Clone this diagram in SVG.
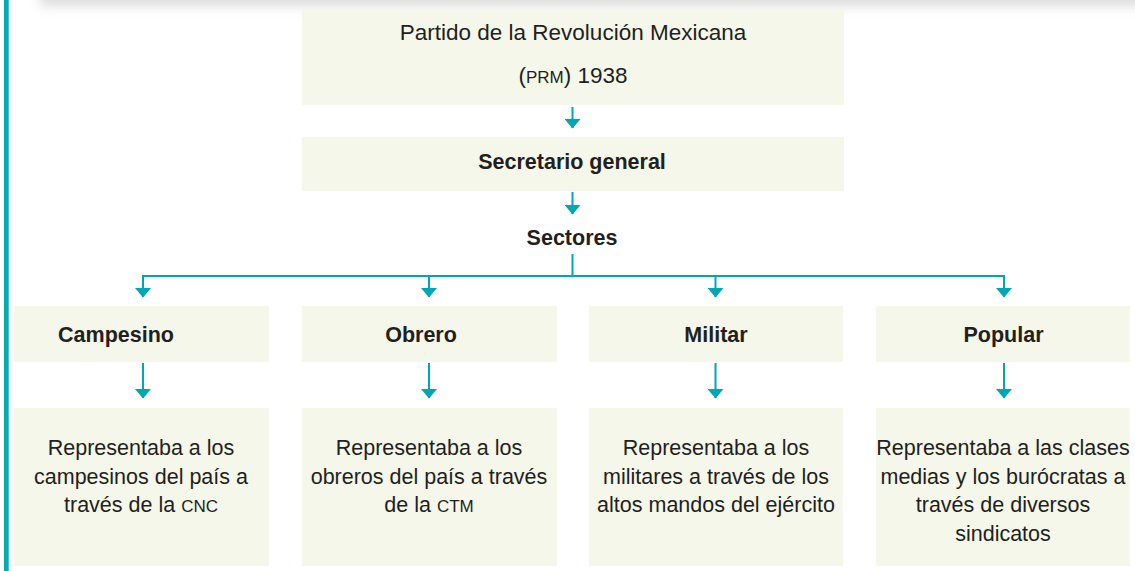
<svg xmlns="http://www.w3.org/2000/svg" width="1135" height="571" viewBox="0 0 1135 571">
  <defs>
    <filter id="sh" x="-10%" y="-200%" width="120%" height="500%">
      <feGaussianBlur stdDeviation="6"/>
    </filter>
    <marker id="ah" markerWidth="16" markerHeight="10" refX="8" refY="9" orient="0" markerUnits="userSpaceOnUse">
      <path d="M0,0 L16,0 L8,9.5 Z" fill="#00A7B2"/>
    </marker>
  </defs>
  <style>
    .box { fill: #F4F7EA; }
    .t { font-family: "Liberation Sans", Arial, sans-serif; fill: #231F20; font-size: 21.5px; text-anchor: middle; }
    .b { font-weight: bold; }
    .sc { font-size: 17px; }
    .c { stroke: #00A7B2; stroke-width: 2; fill: none; }
    .a { marker-end: url(#ah); }
  </style>
  <rect width="1135" height="571" fill="#ffffff"/>
  <!-- top shadow -->
  <rect x="40" y="-30" width="1140" height="36" fill="#c4c4c4" filter="url(#sh)" opacity="0.6"/>
  <!-- left bar -->
  <rect x="4" y="0" width="4.7" height="571" fill="#00ADB5"/>

  <g id="prm">
    <rect class="box" x="302" y="9" width="542" height="96"/>
    <text class="t" x="573" y="40" style="font-size:22.5px">Partido de la Revolución Mexicana</text>
    <text class="t" x="573" y="83" style="font-size:22.5px">(<tspan class="sc">PRM</tspan>) 1938</text>
  </g>
  <g id="secretario">
    <rect class="box" x="302" y="137" width="542" height="54"/>
    <text class="t b" x="572" y="169">Secretario general</text>
  </g>
  <g id="sectores">
    <text class="t b" x="572" y="245">Sectores</text>
  </g>

  <g id="campesino">
    <rect class="box" x="14" y="306" width="255" height="56"/>
    <text class="t b" x="116" y="342">Campesino</text>
  </g>
  <g id="obrero">
    <rect class="box" x="302" y="306" width="255" height="56"/>
    <text class="t b" x="421" y="342">Obrero</text>
  </g>
  <g id="militar">
    <rect class="box" x="589" y="306" width="254" height="56"/>
    <text class="t b" x="716" y="342">Militar</text>
  </g>
  <g id="popular">
    <rect class="box" x="876" y="306" width="254" height="56"/>
    <text class="t b" x="1003.5" y="342">Popular</text>
  </g>

  <g id="campesino-desc">
    <rect class="box" x="14" y="408" width="255" height="158"/>
    <text class="t" x="141" y="455">Representaba a los</text>
    <text class="t" x="141" y="484">campesinos del país a</text>
    <text class="t" x="141" y="512">través de la <tspan class="sc">CNC</tspan></text>
  </g>
  <g id="obrero-desc">
    <rect class="box" x="302" y="408" width="255" height="158"/>
    <text class="t" x="429" y="455">Representaba a los</text>
    <text class="t" x="429" y="484">obreros del país a través</text>
    <text class="t" x="429" y="512">de la <tspan class="sc">CTM</tspan></text>
  </g>
  <g id="militar-desc">
    <rect class="box" x="589" y="408" width="254" height="158"/>
    <text class="t" x="716" y="455">Representaba a los</text>
    <text class="t" x="716" y="484">militares a través de los</text>
    <text class="t" x="716" y="512">altos mandos del ejército</text>
  </g>
  <g id="popular-desc">
    <rect class="box" x="876" y="408" width="254" height="158"/>
    <text class="t" x="1003" y="455">Representaba a las clases</text>
    <text class="t" x="1003" y="484">medias y los burócratas a</text>
    <text class="t" x="1003" y="512">través de diversos</text>
    <text class="t" x="1003" y="541">sindicatos</text>
  </g>

  <g id="connectors">
    <line class="c a" x1="572.5" y1="107" x2="572.5" y2="128"/>
    <line class="c a" x1="572.5" y1="192" x2="572.5" y2="214"/>
    <line class="c" x1="572.5" y1="254" x2="572.5" y2="276"/>
    <line class="c" x1="142" y1="276" x2="1005" y2="276"/>
    <line class="c a" x1="143" y1="276" x2="143" y2="297"/>
    <line class="c a" x1="429" y1="276" x2="429" y2="297"/>
    <line class="c a" x1="715.5" y1="276" x2="715.5" y2="297"/>
    <line class="c a" x1="1004" y1="276" x2="1004" y2="297"/>
    <line class="c a" x1="143" y1="363" x2="143" y2="398"/>
    <line class="c a" x1="429" y1="363" x2="429" y2="398"/>
    <line class="c a" x1="715.5" y1="363" x2="715.5" y2="398"/>
    <line class="c a" x1="1004" y1="363" x2="1004" y2="398"/>
  </g>
</svg>
